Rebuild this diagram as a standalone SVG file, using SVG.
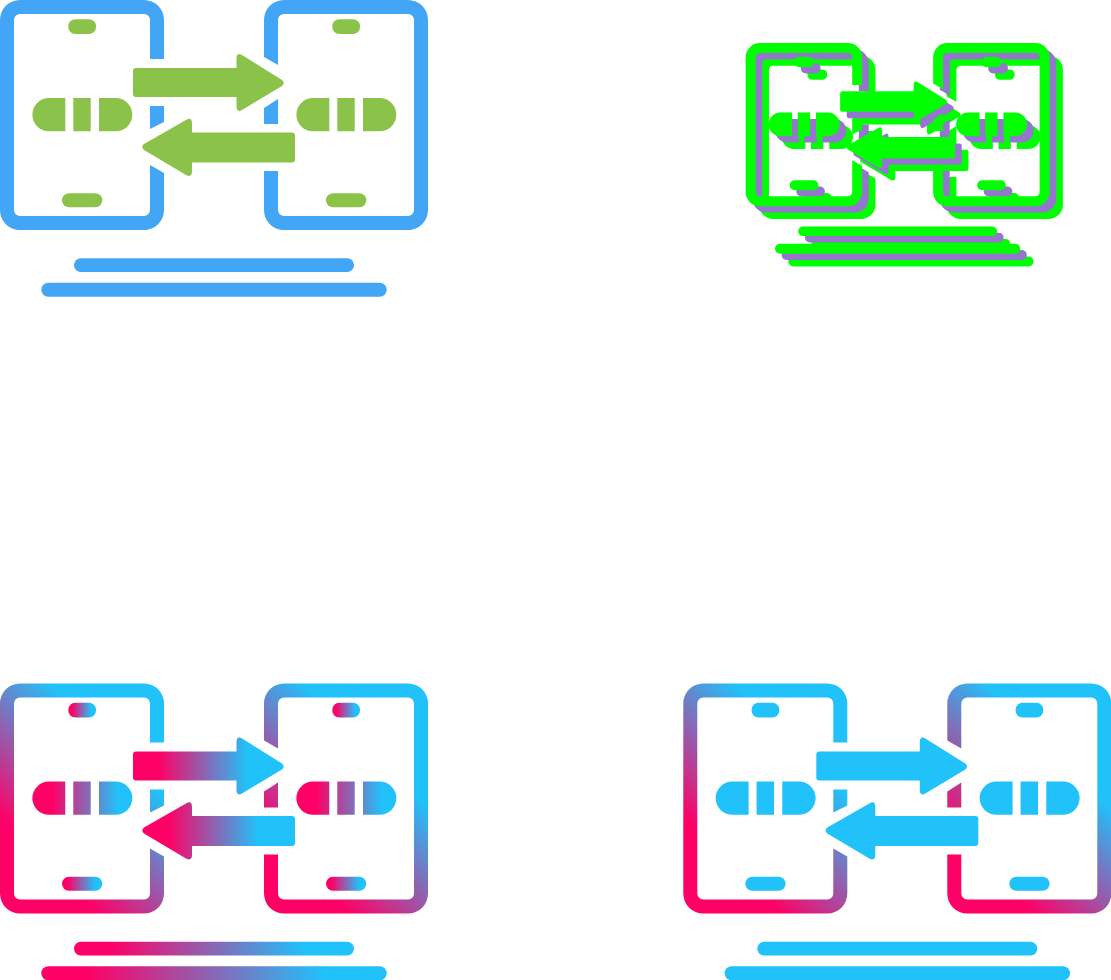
<svg xmlns="http://www.w3.org/2000/svg" xmlns:xlink="http://www.w3.org/1999/xlink" width="1111" height="980" viewBox="0 0 1111 980">
<style>
.blue{fill:#42a5f5}.leaf{fill:#8bc34a}.cyan{fill:#21c1fa}
.neon{fill:#00ff00}.violet{fill:#9575cd}
.gl{fill:url(#phoneL)}.gr{fill:url(#phoneR)}
.gh{fill:url(#horiz)}.ga{fill:url(#arrow)}.gp{fill:url(#pill)}
</style>
<defs>
<linearGradient id="phoneL" gradientUnits="userSpaceOnUse" x1="32" y1="165" x2="123.500" y2="73.500"><stop offset="0" stop-color="#ff0066"/><stop offset="1" stop-color="#21c1fa"/></linearGradient>
<linearGradient id="phoneR" gradientUnits="userSpaceOnUse" x1="290" y1="171" x2="382.500" y2="78.500"><stop offset="0" stop-color="#ff0066"/><stop offset="1" stop-color="#21c1fa"/></linearGradient>
<linearGradient id="horiz"><stop offset=".13" stop-color="#ff0066"/><stop offset=".82" stop-color="#21c1fa"/></linearGradient>
<linearGradient id="arrow"><stop offset=".17" stop-color="#ff0066"/><stop offset=".76" stop-color="#21c1fa"/></linearGradient>
<linearGradient id="pill"><stop offset=".2" stop-color="#ff0066"/><stop offset=".85" stop-color="#21c1fa"/></linearGradient>
<path id="pl" d="M164 59V20A20 20 0 0 0 144 0H20A20 20 0 0 0 0 20V210A20 20 0 0 0 20 230H144A20 20 0 0 0 164 210V173L150 165V210A6 6 0 0 1 144 216H20A6 6 0 0 1 14 210V20A6 6 0 0 1 20 14H144A6 6 0 0 1 150 20V59ZM150 106H164V122L150 129Z"/>
<path id="pr" d="M264 57V20A20 20 0 0 1 284 0H408A20 20 0 0 1 428 20V210A20 20 0 0 1 408 230H284A20 20 0 0 1 264 210V171H278V210A6 6 0 0 0 284 216H408A6 6 0 0 0 414 210V20A6 6 0 0 0 408 14H284A6 6 0 0 0 278 20V65ZM278 99V124H264V108Z"/>
<path id="ar" d="M136 68H236.500V59Q236.500 52 242 55L282 80Q285.500 83 282 86L242 110Q236.500 113 236.500 106V97H136Q133 97 133 94V71Q133 68 136 68Z"/>
<path id="al" d="M292 132.500H192V124Q192 116 186 120L144 144Q140.500 147 144 150L186 175Q192 178 192 171V162.500H292Q295 162.500 295 159.500V135.500Q295 132.500 292 132.500Z"/>
<path id="pi" d="M65.300 98H49A16.600 16.600 0 0 0 49 131.300H65.300ZM73.300 98H90.700V131.300H73.300ZM99 98H115.700A16.600 16.600 0 0 1 115.700 131.300H99Z"/>
<rect id="st" x="68.300" y="19.300" width="27.700" height="14.700" rx="7"/>
<rect id="sb" x="62" y="193.300" width="40.300" height="14" rx="7"/>
<rect id="l1" x="74" y="258.300" width="280" height="13.700" rx="6.800"/>
<rect id="l2" x="41.300" y="282.800" width="345.400" height="14" rx="7"/>
<g id="whole">
<use href="#pl"/><use href="#pr"/><use href="#ar"/><use href="#al"/><use href="#pi"/><use href="#pi" x="264"/><use href="#st"/><use href="#st" x="264"/><use href="#sb"/><use href="#sb" x="264"/><use href="#l1"/><use href="#l2"/>
</g>
</defs>
<g id="icon-flat">
<use href="#pl" class="blue"/><use href="#pr" class="blue"/><use href="#l1" class="blue"/><use href="#l2" class="blue"/>
<use href="#ar" class="leaf"/><use href="#al" class="leaf"/><use href="#pi" class="leaf"/><use href="#pi" x="264" class="leaf"/><use href="#st" class="leaf"/><use href="#st" x="264" class="leaf"/><use href="#sb" class="leaf"/><use href="#sb" x="264" class="leaf"/>
</g>
<g id="icon-neon">
<use href="#whole" class="neon" transform="translate(759,55.700) scale(.71)"/>
<use href="#whole" class="violet" transform="translate(752.300,49.300) scale(.71)"/>
<use href="#whole" class="neon" transform="translate(745.700,43) scale(.71)"/>
</g>
<g id="icon-gradient" transform="translate(0,683.500)">
<use href="#pl" class="gl"/><use href="#pr" class="gr"/><use href="#l1" class="gh"/><use href="#l2" class="gh"/>
<use href="#ar" class="ga"/><use href="#al" class="ga"/><use href="#pi" class="gp"/><use href="#pi" x="264" class="gp"/><use href="#st" class="gh"/><use href="#st" x="264" class="gh"/><use href="#sb" class="gh"/><use href="#sb" x="264" class="gh"/>
</g>
<g id="icon-mixed" transform="translate(683.300,683.500)">
<use href="#pl" class="gl"/><use href="#pr" class="gr"/><use href="#l1" class="cyan"/><use href="#l2" class="cyan"/>
<use href="#ar" class="cyan"/><use href="#al" class="cyan"/><use href="#pi" class="cyan"/><use href="#pi" x="264" class="cyan"/><use href="#st" class="cyan"/><use href="#st" x="264" class="cyan"/><use href="#sb" class="cyan"/><use href="#sb" x="264" class="cyan"/>
</g>
</svg>
